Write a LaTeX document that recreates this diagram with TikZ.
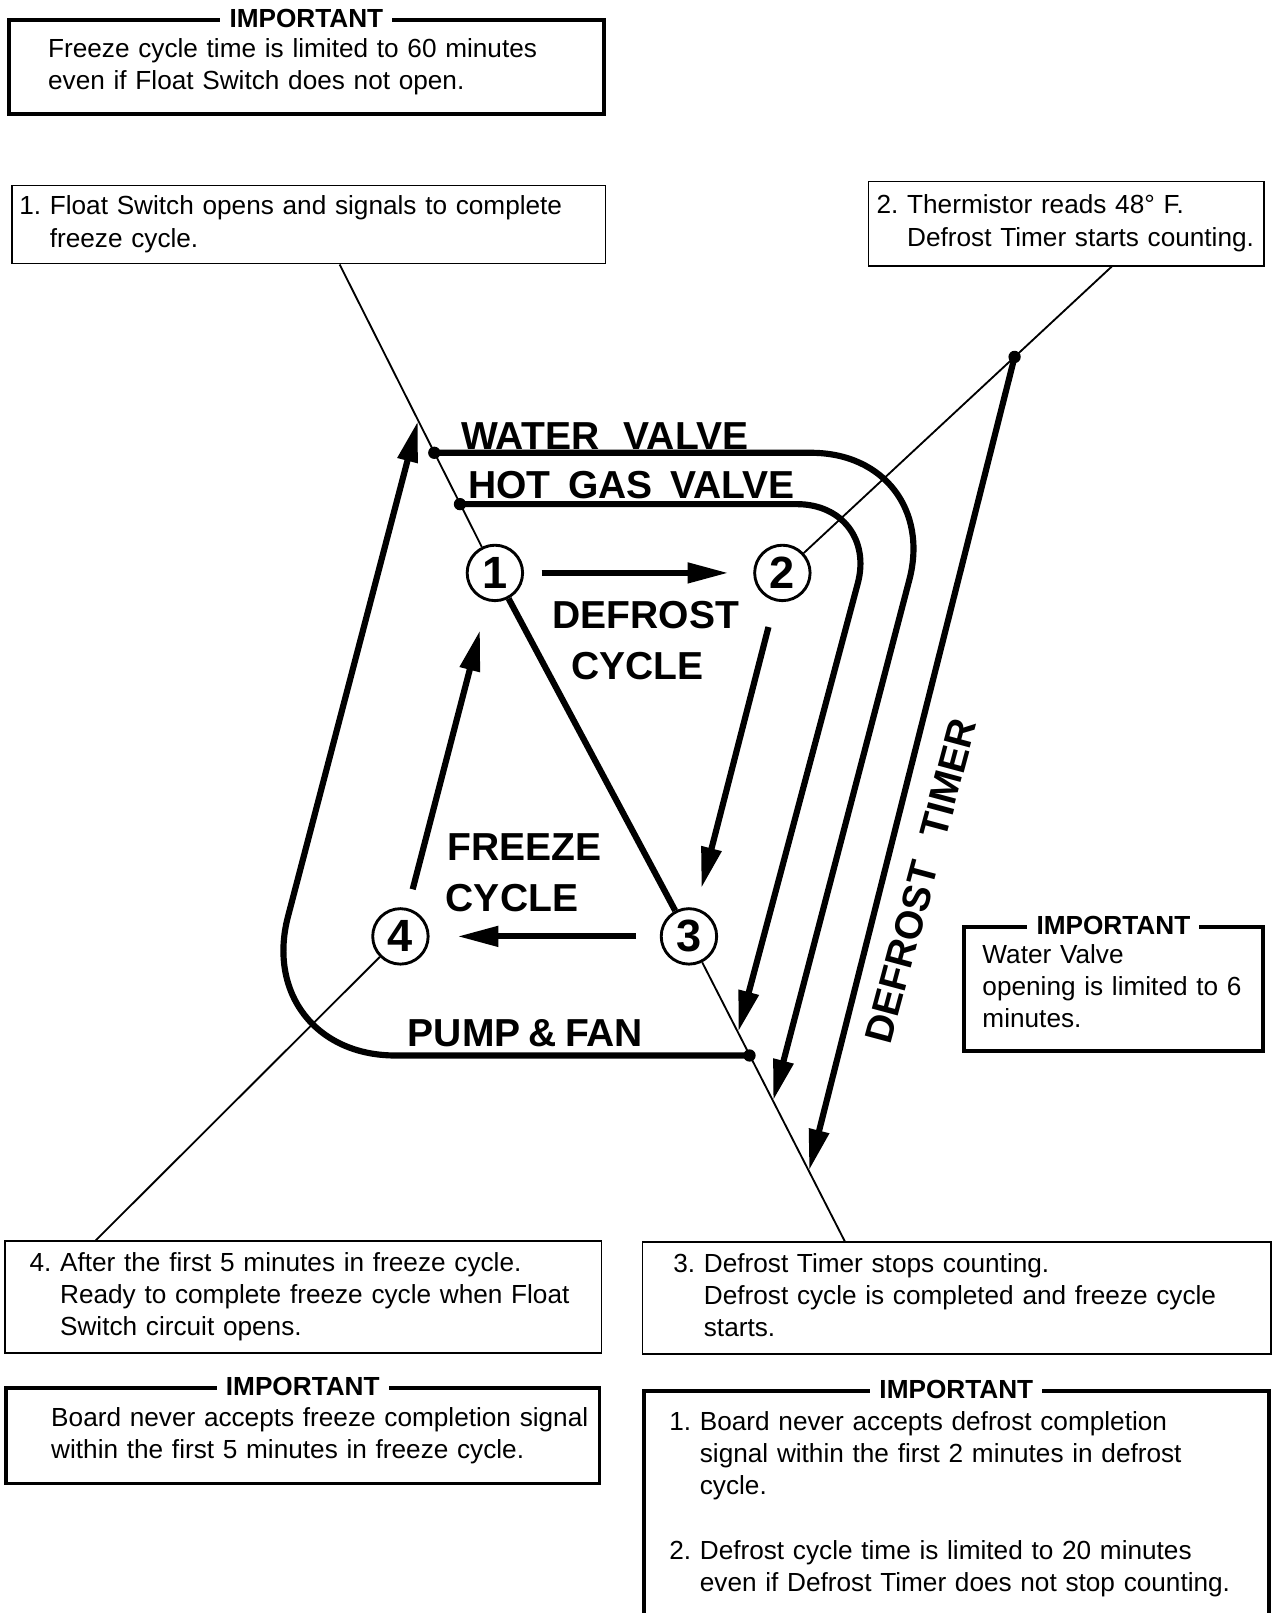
\documentclass[tikz,border=0pt]{standalone}
\usepackage{fontspec}
\setmainfont{Liberation Sans}
\usepackage{tikz}
\usetikzlibrary{
    arrows.meta,
    calc,
    positioning,
}
\newcommand{\notefont}{\fontsize{25.5}{31.5}\selectfont}
\newcommand{\bigfont}{\fontsize{38}{40}\selectfont\bfseries}
\tikzstyle{note}=[draw,rectangle,line width=1.6pt,anchor=north west,inner sep=0mm,align=left,font=\notefont]
\tikzstyle{important}=[note,line width=3.8pt]
\tikzstyle{imptitle}=[fill=white,inner xsep=9pt,inner ysep=1pt,font=\notefont\bfseries]
\tikzstyle{stepcircle}=[draw,circle,line width=2.8pt,minimum size=54pt,inner sep=0mm,font=\fontsize{44}{44}\selectfont\bfseries]
\tikzstyle{flow}=[line width=6pt,-{Triangle[length=40pt,width=19pt]}]
\tikzstyle{valve}=[line width=6pt]
\tikzstyle{leader}=[line width=1.8pt]
\tikzstyle{joint}=[circle,fill=black,inner sep=0mm,minimum size=12pt]
\tikzstyle{cyclelabel}=[anchor=base west,inner sep=0mm,font=\bigfont]
\newcommand{\Important}[3][]{%
    \node[important,#1] (#2) {#3};
    \node[imptitle] (#2 title) at (#2.north) {IMPORTANT};
}
\begin{document}
\begin{tikzpicture}[x=1pt,y=-1pt]
    \useasboundingbox (0,0) rectangle (1238,1571);

    % Notes
    \Important[at={(7,18)},minimum width=579pt,minimum height=91pt,text width=503pt]{imp1}{%
        \begin{tabular}{@{}l@{}}
            Freeze cycle time is limited to 60 minutes\\
            even if Float Switch does not open.
        \end{tabular}};
    \node[note,minimum width=578pt,minimum height=76pt,text width=564pt] (note1) at (11,180) {%
        \begin{tabular}{@{}l@{\ }l@{}}
            1. & Float Switch opens and signals to complete\\
               & freeze cycle.
        \end{tabular}};
    \node[note,minimum width=385pt,minimum height=82pt,text width=369pt] (note2) at (845,176) {%
        \begin{tabular}{@{}l@{\ }l@{}}
            2. & Thermistor reads 48° F.\\
               & Defrost Timer starts counting.
        \end{tabular}};
    \Important[at={(937,901)},minimum width=291pt,minimum height=121pt,text width=255pt]{imp2}{%
        \begin{tabular}{@{}l@{}}
            Water Valve\\
            opening is limited to 6\\
            minutes.
        \end{tabular}};
    \node[note,minimum width=581pt,minimum height=109pt,text width=533pt] (note4) at (4,1208) {%
        \begin{tabular}{@{}l@{\ }l@{}}
            4. & After the first 5 minutes in freeze cycle.\\
               & Ready to complete freeze cycle when Float\\
               & Switch circuit opens.
        \end{tabular}};
    \node[note,minimum width=612pt,minimum height=109pt,text width=552pt] (note3) at (625,1209) {%
        \begin{tabular}{@{}l@{\ }l@{}}
            3. & Defrost Timer stops counting.\\
               & Defrost cycle is completed and freeze cycle\\
               & starts.
        \end{tabular}};
    \Important[at={(4,1350)},minimum width=578pt,minimum height=93pt,text width=490pt]{imp3}{%
        \begin{tabular}{@{}l@{}}
            Board never accepts freeze completion signal\\
            within the first 5 minutes in freeze cycle.
        \end{tabular}};
    \Important[at={(625,1353)},minimum width=609pt,minimum height=221pt,text width=559pt]{imp4}{%
        \begin{tabular}{@{}l@{\ }l@{}}
            1. & Board never accepts defrost completion\\
               & signal within the first 2 minutes in defrost\\
               & cycle.\\
               & \\
            2. & Defrost cycle time is limited to 20 minutes\\
               & even if Defrost Timer does not stop counting.
        \end{tabular}};

    % Cycle
    \node[stepcircle] (c1) at (482,558) {1};
    \node[stepcircle] (c2) at (762,558) {2};
    \node[stepcircle] (c3) at (671,912) {3};
    \node[stepcircle] (c4) at (390,912) {4};
    \draw[flow,shorten <=17pt,shorten >=24pt] (c1) -- (c2);
    \draw[flow,shorten <=26pt,shorten >=20pt] (c2) -- (c3);
    \draw[flow,shorten <=23pt,shorten >=27pt] (c3) -- (c4);
    \draw[flow,shorten <=19pt,shorten >=29pt] (c4) -- (c1);

    % Leaders to the notes
    \coordinate (foot1) at ([xshift=30pt]note1.south);
    \coordinate (foot2) at ([xshift=44.5pt]note2.south);
    \coordinate (foot3) at ([xshift=-109pt]note3.north);
    \coordinate (foot4) at ([xshift=-202pt]note4.north);
    \draw[leader] (foot1) -- (c1);
    \draw[valve] (c1) -- (c3);
    \draw[leader] (c3) -- (foot3);
    \draw[leader] (c2) -- (foot2);
    \draw[leader] (c4) -- (foot4);

    % Outputs
    \node[joint] (wvjoint) at (423,441) {};
    \node[joint] (hgjoint) at (448,491) {};
    \node[joint] (pfjoint) at (730,1028) {};
    \node[joint] (tjoint) at ($(c2)!0.705!(foot2)$) {};
    \coordinate (wvend) at (753,1072);
    \coordinate (hgend) at (719,1005);
    \coordinate (tend) at (788,1140);
    \coordinate (pfend) at (407,410);
    \draw[flow,rounded corners=128pt] (wvjoint.center) -- (918,441) -- (wvend);
    \draw[flow,rounded corners=80pt] (hgjoint.center) -- (856,491) -- (hgend);
    \draw[flow] (tjoint.center) -- (tend);
    \draw[flow,rounded corners=140pt] (pfjoint.center) -- (245,1028) -- (pfend);

    % Labels
    \node[cyclelabel] (wvlabel) at (449,438) {WATER\hspace{24pt}VALVE};
    \node[cyclelabel] (hglabel) at (456,486) {HOT\hspace{17pt}GAS\hspace{17pt}VALVE};
    \node[cyclelabel] (dclabel) at (538,612) {DEFROST};
    \node[cyclelabel] (dclabel2) at (556,662) {CYCLE};
    \node[cyclelabel] (fclabel) at (436,838) {FREEZE};
    \node[cyclelabel] (fclabel2) at (434,888) {CYCLE};
    \node[cyclelabel] (pflabel) at (397,1019) {PUMP\hspace{8pt}\&\hspace{8pt}FAN};
    \node[rotate=75,inner sep=0mm,font=\bigfont] (timerlabel) at (897,858) {DEFROST\hspace{26pt}TIMER};
\end{tikzpicture}
\end{document}
